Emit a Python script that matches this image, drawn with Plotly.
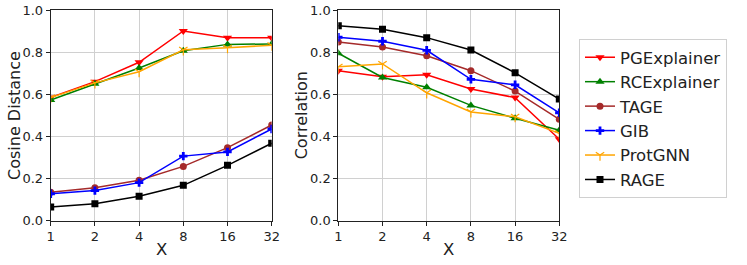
import plotly.graph_objects as go

x_vals = [1, 2, 4, 8, 16, 32]
x_labels = ["1", "2", "4", "8", "16", "32"]

methods = ["PGExplainer", "RCExplainer", "TAGE", "GIB", "ProtGNN", "RAGE"]

cosine = {
    "PGExplainer": [0.586, 0.661, 0.753, 0.902, 0.870, 0.870],
    "RCExplainer": [0.574, 0.651, 0.726, 0.808, 0.838, 0.840],
    "TAGE":        [0.135, 0.157, 0.192, 0.258, 0.347, 0.455],
    "GIB":         [0.128, 0.143, 0.181, 0.307, 0.327, 0.436],
    "ProtGNN":     [0.585, 0.655, 0.708, 0.812, 0.822, 0.834],
    "RAGE":        [0.065, 0.081, 0.116, 0.168, 0.263, 0.368],
}

correlation = {
    "PGExplainer": [0.713, 0.684, 0.694, 0.626, 0.585, 0.387],
    "RCExplainer": [0.796, 0.681, 0.634, 0.548, 0.487, 0.430],
    "TAGE":        [0.849, 0.826, 0.784, 0.713, 0.616, 0.482],
    "GIB":         [0.872, 0.853, 0.810, 0.672, 0.646, 0.513],
    "ProtGNN":     [0.732, 0.745, 0.608, 0.517, 0.494, 0.415],
    "RAGE":        [0.927, 0.910, 0.870, 0.811, 0.703, 0.578],
}

colors = {
    "PGExplainer": "#ff0000",
    "RCExplainer": "#008000",
    "TAGE": "#a52a2a",
    "GIB": "#0000ff",
    "ProtGNN": "#ffa500",
    "RAGE": "#000000",
}
symbols = {
    "PGExplainer": "triangle-down",
    "RCExplainer": "triangle-up",
    "TAGE": "circle",
    "GIB": "cross",
    "ProtGNN": "y-down-open",
    "RAGE": "square",
}
sizes = {
    "PGExplainer": 8, "RCExplainer": 8, "TAGE": 7, "GIB": 7, "ProtGNN": 7, "RAGE": 7,
}

fig = go.Figure()
for m in methods:
    for data, xa, ya, show in [(cosine, "x", "y", True), (correlation, "x2", "y2", False)]:
        fig.add_trace(go.Scatter(
            x=x_vals, y=data[m], name=m, mode="lines+markers",
            xaxis=xa, yaxis=ya, showlegend=show, legendgroup=m,
            line=dict(color=colors[m], width=1.5),
            marker=dict(symbol=symbols[m], size=sizes[m], color=colors[m],
                        line=dict(color=colors[m], width=1.2 if m == "ProtGNN" else 0)),
        ))

W, H = 747, 265
TXT = "#222222"
axis_common = dict(
    type="log", tickvals=x_vals, ticktext=x_labels,
    range=[0, 1.50515], showgrid=True, gridcolor="#d0d0d0", gridwidth=1,
    showline=True, linecolor=TXT, linewidth=1, mirror=True,
    ticks="outside", ticklen=4, tickcolor=TXT,
    tickfont=dict(size=13, color=TXT), zeroline=False, automargin=False,
)
yaxis_common = dict(
    range=[0, 1], tickvals=[0, 0.2, 0.4, 0.6, 0.8, 1.0],
    ticktext=["0.0", "0.2", "0.4", "0.6", "0.8", "1.0"],
    showgrid=True, gridcolor="#d0d0d0", gridwidth=1,
    showline=True, linecolor=TXT, linewidth=1, mirror=True,
    ticks="outside", ticklen=4, tickcolor=TXT,
    tickfont=dict(size=13, color=TXT), zeroline=False, automargin=False,
)

ytop = 1 - 10.3 / H
ybot = 1 - 220.7 / H
ymid = 1 - 115.5 / H

annotations = [
    dict(text="Cosine Distance", textangle=-90, x=14.5 / W, y=ymid,
         xref="paper", yref="paper", showarrow=False, xanchor="center", yanchor="middle",
         font=dict(size=16, color=TXT)),
    dict(text="Correlation", textangle=-90, x=301.8 / W, y=ymid,
         xref="paper", yref="paper", showarrow=False, xanchor="center", yanchor="middle",
         font=dict(size=16, color=TXT)),
    dict(text="X", x=161.2 / W, y=1 - 249 / H,
         xref="paper", yref="paper", showarrow=False, xanchor="center", yanchor="middle",
         font=dict(size=16.5, color=TXT)),
    dict(text="X", x=448.8 / W, y=1 - 249 / H,
         xref="paper", yref="paper", showarrow=False, xanchor="center", yanchor="middle",
         font=dict(size=16.5, color=TXT)),
]

fig.update_layout(
    width=W, height=H,
    margin=dict(l=0, r=0, t=0, b=0),
    paper_bgcolor="white", plot_bgcolor="white",
    font=dict(family="DejaVu Sans", color=TXT),
    xaxis=dict(domain=[50.7 / W, 271.7 / W], anchor="y", **axis_common),
    yaxis=dict(domain=[ybot, ytop], anchor="x", **yaxis_common),
    xaxis2=dict(domain=[338.3 / W, 559.3 / W], anchor="y2", **axis_common),
    yaxis2=dict(domain=[ybot, ytop], anchor="x2", **yaxis_common),
    annotations=annotations,
    legend=dict(
        x=579 / W, y=1 - 39 / H, xanchor="left", yanchor="top",
        bordercolor="#d0d0d0", borderwidth=1, bgcolor="white",
        font=dict(size=16.5, color=TXT),
        tracegroupgap=0, itemwidth=30,
    ),
    showlegend=True,
)

fig.write_html("out.html", config={"displayModeBar": False},
               post_script="document.body.style.margin='0px';")
